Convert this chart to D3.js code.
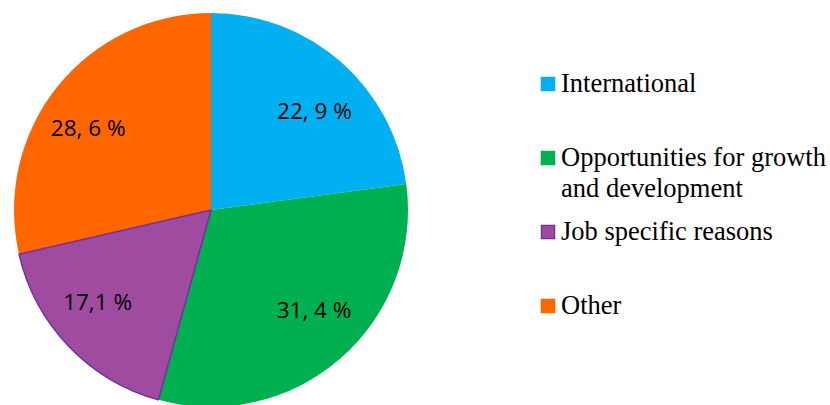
<!DOCTYPE html>
<html>
<head>
<meta charset="utf-8">
<script src="https://cdn.jsdelivr.net/npm/d3@7/dist/d3.min.js"></script>
<style>
  html, body { margin: 0; padding: 0; background: #fff; }
  svg { display: block; }
</style>
</head>
<body>
<svg id="chart" width="830" height="405"></svg>
<script>
// Share of responses by reason (percent)
const categories = ["International", "Opportunities for growth and development", "Job specific reasons", "Other"];
const legendLines = [["International"], ["Opportunities for growth", "and development"], ["Job specific reasons"], ["Other"]];
const values = [22.9, 31.4, 17.1, 28.6];
const valueLabels = ["22, 9 %", "31, 4 %", "17,1 %", "28, 6 %"];
const colors = ["#00B0F0", "#00B050", "#9E4BA0", "#FF6600"];
const strokes = ["none", "none", "#7030A0", "none"];

const svg = d3.select("#chart");
const cx = 211, cy = 210, radius = 197;

const pie = d3.pie().sort(null).value(d => d)(values);
const arc = d3.arc().innerRadius(0).outerRadius(radius);

const g = svg.append("g").attr("transform", `translate(${cx},${cy})`);

g.selectAll("path.slice")
  .data(pie)
  .join("path")
  .attr("class", "slice")
  .attr("d", arc)
  .attr("fill", (d, i) => colors[i])
  .attr("stroke", (d, i) => strokes[i])
  .attr("stroke-width", 1.5)
  .attr("stroke-linejoin", "round");

// draw the outlined slice last so its border sits on top
g.selectAll("path.slice").filter((d, i) => strokes[i] !== "none").raise();

// value labels sit on an ellipse inside the pie, at each slice's mid-angle
const labelRx = 157, labelRy = 132;
const labelPos = d => {
  const a = (d.startAngle + d.endAngle) / 2;
  return [Math.sin(a) * labelRx, -Math.cos(a) * labelRy];
};

g.selectAll("text.val")
  .data(pie)
  .join("text")
  .attr("class", "val")
  .attr("transform", d => `translate(${labelPos(d)})`)
  .attr("text-anchor", "middle")
  .attr("dominant-baseline", "central")
  .attr("font-family", "'Open Sans', sans-serif")
  .attr("font-size", 22.5)
  .attr("fill", "#000")
  .text((d, i) => valueLabels[i]);

// Legend
const legend = svg.append("g").attr("transform", "translate(541,0)");
const rowBaseline = [92, 166, 240, 314];
const items = legend.selectAll("g.item")
  .data(categories)
  .join("g")
  .attr("class", "item")
  .attr("transform", (d, i) => `translate(0,${rowBaseline[i]})`);

items.append("rect")
  .attr("x", 0.5)
  .attr("y", -14.5)
  .attr("width", 13)
  .attr("height", 13)
  .attr("fill", (d, i) => colors[i])
  .attr("stroke", (d, i) => strokes[i] === "none" ? colors[i] : strokes[i])
  .attr("stroke-width", 1.5);

items.append("text")
  .attr("x", 20)
  .attr("y", 0)
  .attr("font-family", "'Liberation Serif', 'Times New Roman', serif")
  .attr("font-size", 26.5)
  .attr("fill", "#000")
  .selectAll("tspan")
  .data((d, i) => legendLines[i])
  .join("tspan")
  .attr("x", 20)
  .attr("dy", (d, j) => j === 0 ? 0 : 30.7)
  .text(d => d);
</script>
</body>
</html>
